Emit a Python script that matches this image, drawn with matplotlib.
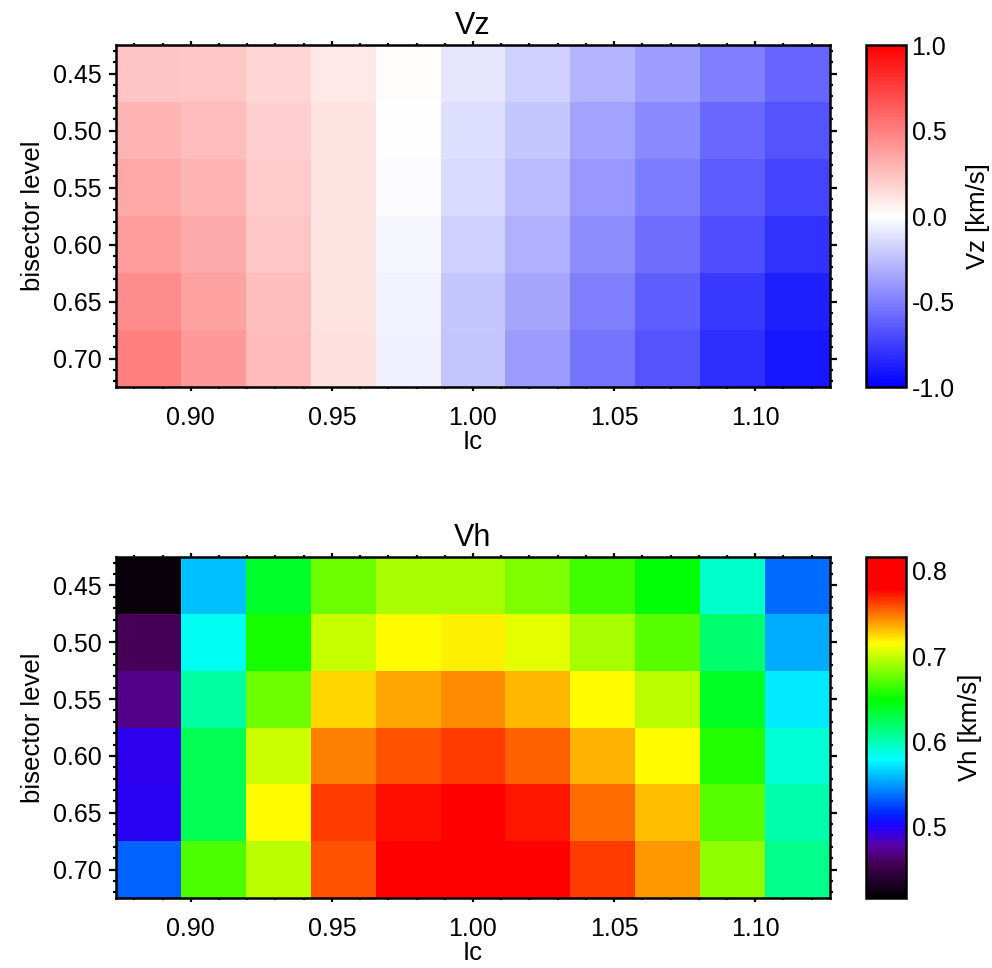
import numpy as np
import matplotlib
matplotlib.use("Agg")
import matplotlib.pyplot as plt
from matplotlib.colors import LinearSegmentedColormap, Normalize
from matplotlib.ticker import MultipleLocator, FormatStrFormatter

plt.rcParams["font.family"] = ["Liberation Sans", "DejaVu Sans"]

# Continuum intensity bins (centres) and bisector levels
ic = [0.885, 0.908, 0.931, 0.954, 0.977, 1.000, 1.023, 1.046, 1.069, 1.092, 1.115]
levels = [0.45, 0.50, 0.55, 0.60, 0.65, 0.70]

# Vertical velocity [km/s], one row per bisector level
vz = [
    [0.23, 0.22, 0.16, 0.09, 0.01, -0.10, -0.18, -0.29, -0.38, -0.50, -0.60],
    [0.29, 0.26, 0.19, 0.11, 0.00, -0.13, -0.22, -0.36, -0.46, -0.59, -0.67],
    [0.34, 0.29, 0.21, 0.11, -0.01, -0.145, -0.27, -0.40, -0.51, -0.64, -0.73],
    [0.39, 0.33, 0.22, 0.11, -0.035, -0.18, -0.31, -0.44, -0.57, -0.69, -0.80],
    [0.45, 0.36, 0.25, 0.11, -0.05, -0.22, -0.35, -0.50, -0.63, -0.78, -0.87],
    [0.50, 0.40, 0.27, 0.12, -0.06, -0.23, -0.39, -0.54, -0.67, -0.82, -0.91],
]

# Horizontal velocity [km/s]
vh = [
    [0.422, 0.561, 0.638, 0.677, 0.692, 0.692, 0.681, 0.666, 0.649, 0.594, 0.536],
    [0.458, 0.583, 0.655, 0.699, 0.715, 0.719, 0.707, 0.692, 0.672, 0.619, 0.554],
    [0.470, 0.605, 0.677, 0.725, 0.737, 0.743, 0.733, 0.715, 0.696, 0.639, 0.573],
    [0.495, 0.627, 0.702, 0.746, 0.757, 0.764, 0.754, 0.734, 0.715, 0.657, 0.590],
    [0.497, 0.627, 0.715, 0.764, 0.774, 0.785, 0.773, 0.752, 0.731, 0.671, 0.601],
    [0.533, 0.668, 0.696, 0.757, 0.790, 0.795, 0.785, 0.764, 0.741, 0.685, 0.611],
]

vz_range = (-1.0, 1.0)
vh_range = (0.4166, 0.816)

# Blue-white-red map for Vz
cmap_vz = LinearSegmentedColormap.from_list("bwr_lin", [(0, 0, 1), (1, 1, 1), (1, 0, 0)])

# Black-purple-blue-cyan-green-yellow-red rainbow for Vh
lo, hi = vh_range
anchors = [
    (0.4166, (0.0, 0.0, 0.0)),
    (0.458, (0.28, 0.0, 0.35)),
    (0.478, (0.35, 0.0, 0.67)),
    (0.500, (0.12, 0.0, 1.0)),
    (0.515, (0.0, 0.15, 1.0)),
    (0.579, (0.0, 1.0, 1.0)),
    (0.614, (0.0, 1.0, 0.5)),
    (0.649, (0.0, 1.0, 0.0)),
    (0.715, (1.0, 1.0, 0.0)),
    (0.779, (1.0, 0.0, 0.0)),
    (0.816, (1.0, 0.0, 0.0)),
]
cmap_vh = LinearSegmentedColormap.from_list(
    "rainbow_blk", [((v - lo) / (hi - lo), c) for v, c in anchors]
)

fig = plt.figure(figsize=(9.92, 9.68), dpi=100)

panels = [
    dict(data=vz, cmap=cmap_vz, rng=vz_range, title="Vz", clabel="Vz [km/s]",
         ax_rect=[0.1169, 0.6002, 0.7198, 0.3533], cb_rect=[0.873, 0.6002, 0.0403, 0.3533],
         cticks=[-1.0, -0.5, 0.0, 0.5, 1.0]),
    dict(data=vh, cmap=cmap_vh, rng=vh_range, title="Vh", clabel="Vh [km/s]",
         ax_rect=[0.1169, 0.0723, 0.7198, 0.3523], cb_rect=[0.873, 0.0723, 0.0403, 0.3523],
         cticks=[0.5, 0.6, 0.7, 0.8]),
]

for p in panels:
    ax = fig.add_axes(p["ax_rect"])
    mesh = ax.pcolormesh(ic, levels, np.array(p["data"]), cmap=p["cmap"],
                         norm=Normalize(*p["rng"]), shading="nearest")
    ax.set_xlim(0.8735, 1.1265)
    ax.set_ylim(0.725, 0.425)
    ax.xaxis.set_major_locator(MultipleLocator(0.05))
    ax.xaxis.set_minor_locator(MultipleLocator(0.01))
    ax.yaxis.set_major_locator(MultipleLocator(0.05))
    ax.yaxis.set_minor_locator(MultipleLocator(0.01))
    ax.xaxis.set_major_formatter(FormatStrFormatter("%.2f"))
    ax.yaxis.set_major_formatter(FormatStrFormatter("%.2f"))
    ax.tick_params(axis="both", which="both", direction="out", width=1.6,
                   top=True, right=True, labelsize=18, colors="black")
    ax.tick_params(axis="x", which="major", length=3, pad=11)
    ax.tick_params(axis="x", which="minor", length=1.5)
    ax.tick_params(axis="y", which="major", length=5, pad=5)
    ax.tick_params(axis="y", which="minor", length=2.5)
    for s in ax.spines.values():
        s.set_linewidth(1.8)
    ax.set_title(p["title"], fontsize=22, pad=8)
    ax.set_xlabel("Ic", fontsize=18.5, labelpad=0)
    ax.set_ylabel("bisector level", fontsize=18.5, labelpad=6)

    cax = fig.add_axes(p["cb_rect"])
    cb = fig.colorbar(mesh, cax=cax, ticks=p["cticks"])
    cb.ax.yaxis.set_major_formatter(FormatStrFormatter("%.1f"))
    cb.ax.tick_params(length=0, labelsize=18, pad=4)
    cb.outline.set_linewidth(1.8)
    cb.set_label(p["clabel"], fontsize=18.5, labelpad=8)

fig.savefig("out.png", dpi=100)
